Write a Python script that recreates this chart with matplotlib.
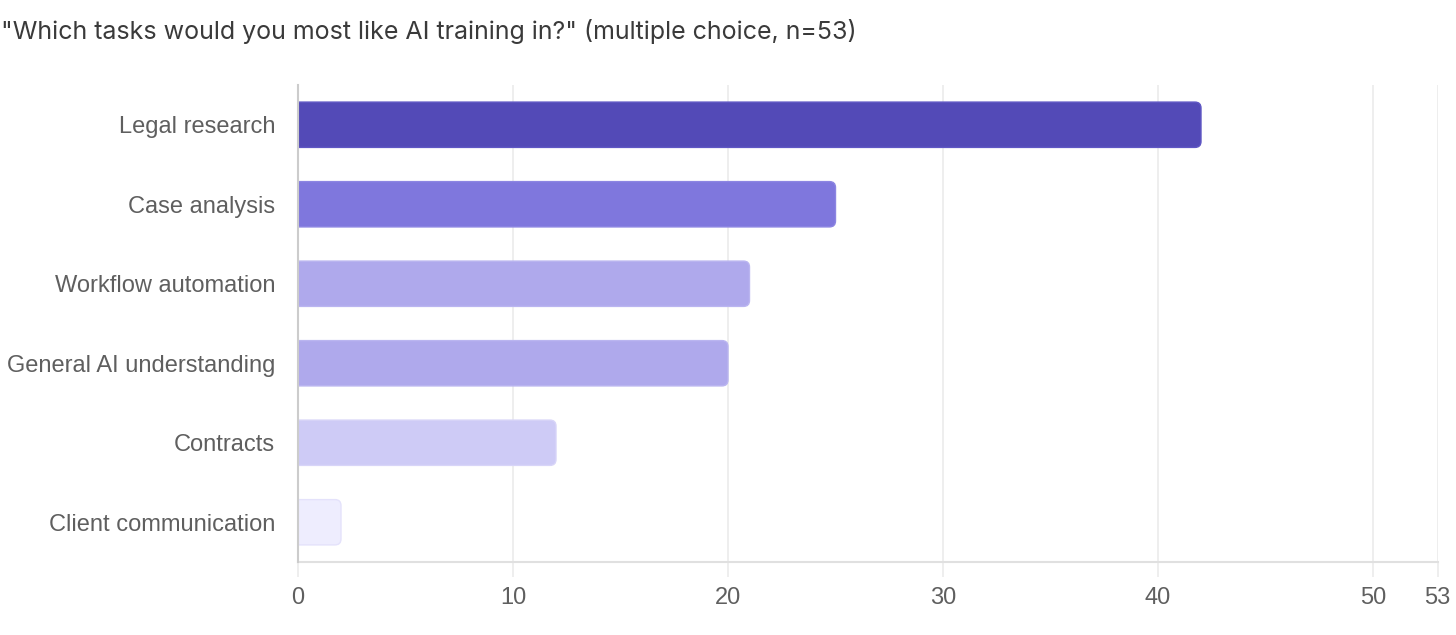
import matplotlib.pyplot as plt
from matplotlib.patches import FancyBboxPatch

plt.rcParams['font.family'] = ['Liberation Sans', 'DejaVu Sans']

# --- Data ---
tasks = ['Legal research', 'Case analysis', 'Workflow automation',
         'General AI understanding', 'Contracts', 'Client communication']
counts = [42, 25, 21, 20, 12, 2]
bar_colors = ['#534AB7', '#7F77DD', '#AFA9EC', '#AFA9EC', '#CECBF6', '#EEEDFE']
edge_colors = ['#5F57C4', '#8C85E2', '#BAB5F0', '#BAB5F0', '#D8D5F8', '#E4E2FB']
x_ticks = [0, 10, 20, 30, 40, 50, 53]
n_total = 53

fig = plt.figure(figsize=(14.56, 6.35), dpi=100)
ax = fig.add_axes([298 / 1456, 1 - 562 / 635, (1437.5 - 298) / 1456, (562 - 85) / 635])

bar_h = 0.57
ax.set_xlim(0, n_total)
ax.set_ylim(len(tasks) - 0.5, -0.5)

# px per data unit, used so the corner rounding looks circular
fig.canvas.draw()
bbox = ax.get_window_extent()
px_x = bbox.width / n_total
px_y = bbox.height / len(tasks)
r_px = 6
pad_x = r_px / px_x
aspect = px_x / px_y
pad_y = pad_x * aspect

for i, (v, c, ec) in enumerate(zip(counts, bar_colors, edge_colors)):
    y0 = i - bar_h / 2
    # rounded box; the left end starts left of 0 so the axes clip squares it off
    box = FancyBboxPatch((-pad_x, y0 + pad_y), v, bar_h - 2 * pad_y,
                         boxstyle=f'round,pad={pad_x}',
                         mutation_aspect=aspect,
                         facecolor=c, edgecolor=ec, linewidth=1.0, zorder=3)
    ax.add_patch(box)

ax.set_yticks(range(len(tasks)))
ax.set_yticklabels(tasks)
ax.set_xticks(x_ticks)
ax.set_xticklabels([str(t) for t in x_ticks])

ax.grid(axis='x', color='#EBEBEB', linewidth=1.2, zorder=0)
ax.set_axisbelow(True)
for s in ['top', 'right']:
    ax.spines[s].set_visible(False)
ax.spines['left'].set_color('#CCCCCC')
ax.spines['left'].set_linewidth(1.5)
ax.spines['left'].set_zorder(4)
ax.spines['bottom'].set_color('#E0E0E0')
ax.spines['bottom'].set_linewidth(1.5)

ax.tick_params(axis='y', length=0, pad=16.5, labelsize=17, labelcolor='#5F5F5F')
ax.tick_params(axis='x', length=11, width=1.2, color='#EBEBEB', pad=7,
               labelsize=17, labelcolor='#5F5F5F')

fig.text(1 / 1456, 1 - 31 / 635,
         '"Which tasks would you most like AI training in?" (multiple choice, n=53)',
         fontsize=18, color='#3A3A3A', ha='left', va='center',
         family=['Inter', 'Liberation Sans', 'DejaVu Sans'])

fig.savefig('out.png', dpi=100, facecolor='white')
